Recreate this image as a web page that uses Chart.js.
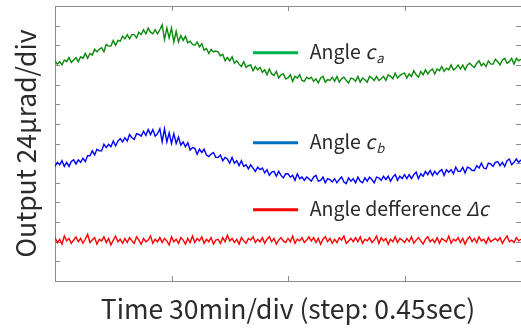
<!DOCTYPE html>
<html>
<head>
<meta charset="utf-8">
<script src="https://cdn.jsdelivr.net/npm/chart.js@4.4.1/dist/chart.umd.min.js"></script>
<style>
    html, body { margin: 0; padding: 0; background: #fff; }
    #wrap { width: 521px; height: 333px; position: relative; }
</style>
</head>
<body>
<div id="wrap"><canvas id="chart"></canvas></div>
<script>
// sample spacing along the time axis (minutes)
const STEP_MIN = 0.6;

// Angle c_a (µrad)
const angleA = [
    269, 265, 268, 264, 270, 268, 273, 267, 270, 273,
    268, 274, 272, 278, 272, 278, 276, 283, 280, 283,
    285, 280, 289, 287, 287, 294, 288, 294, 293, 299,
    296, 301, 296, 301, 301, 297, 304, 301, 307, 302,
    309, 304, 302, 307, 302, 307, 313, 295, 309, 297,
    309, 292, 305, 292, 300, 294, 299, 291, 293, 289,
    288, 292, 286, 290, 282, 284, 278, 283, 280, 281,
    280, 275, 277, 269, 273, 269, 274, 266, 269, 265,
    262, 268, 261, 263, 264, 257, 262, 258, 261, 255,
    258, 252, 259, 253, 251, 256, 248, 252, 253, 247,
    248, 252, 244, 250, 248, 252, 245, 244, 249, 247,
    249, 244, 247, 242, 248, 250, 243, 246, 245, 249,
    244, 250, 243, 247, 249, 245, 242, 248, 247, 244,
    250, 243, 248, 246, 243, 250, 248, 245, 250, 245,
    247, 250, 245, 252, 250, 247, 254, 248, 251, 253,
    254, 248, 253, 250, 257, 252, 249, 256, 252, 258,
    253, 257, 259, 253, 259, 257, 262, 256, 260, 258,
    264, 258, 260, 264, 259, 264, 258, 264, 266, 263,
    261, 266, 269, 263, 266, 262, 269, 265, 265, 271,
    268, 264, 270, 272, 266, 268, 272, 265, 272, 269,
    271
];

// Angle c_b (µrad)
const angleB = [
    140, 145, 142, 147, 140, 145, 140, 146, 148, 143,
    148, 145, 150, 146, 153, 153, 159, 154, 161, 159,
    159, 167, 163, 167, 164, 171, 165, 171, 174, 170,
    175, 171, 179, 175, 173, 180, 179, 177, 183, 178,
    185, 179, 185, 177, 180, 186, 170, 186, 170, 181,
    168, 180, 168, 176, 166, 170, 164, 169, 160, 163,
    162, 155, 161, 157, 161, 154, 152, 155, 157, 151,
    151, 154, 147, 151, 149, 144, 151, 144, 147, 141,
    147, 140, 142, 137, 142, 138, 134, 139, 136, 138,
    132, 136, 129, 133, 134, 128, 134, 129, 126, 131,
    131, 127, 129, 123, 131, 125, 127, 123, 127, 125,
    122, 127, 129, 122, 123, 127, 120, 125, 124, 121,
    125, 120, 124, 127, 121, 119, 126, 122, 125, 120,
    127, 122, 120, 126, 122, 127, 124, 120, 127, 126,
    123, 128, 124, 128, 122, 127, 130, 123, 128, 125,
    130, 125, 130, 125, 130, 133, 125, 131, 128, 134,
    130, 135, 129, 134, 130, 134, 136, 129, 136, 133,
    136, 131, 139, 134, 134, 139, 132, 139, 138, 135,
    135, 141, 138, 144, 138, 137, 144, 143, 140, 145,
    146, 141, 145, 140, 147, 149, 142, 145, 149, 145,
    148
];

// Angle difference Δc (µrad)
const angleDiff = [
    53, 47, 51, 45, 55, 49, 52, 46, 50, 54,
    48, 52, 46, 51, 57, 47, 50, 53, 45, 51,
    49, 54, 47, 52, 44, 50, 55, 48, 51, 46,
    52, 47, 53, 49, 46, 54, 50, 45, 52, 48,
    50, 55, 46, 51, 48, 53, 47, 52, 49, 44,
    54, 48, 51, 46, 53, 50, 45, 52, 47, 55,
    47, 52, 49, 54, 46, 51, 48, 53, 45, 50,
    51, 46, 53, 48, 56, 49, 52, 47, 51, 45,
    53, 49, 46, 52, 50, 54, 47, 51, 48, 53,
    46, 51, 54, 48, 52, 45, 50, 53, 49, 47,
    52, 48, 55, 46, 51, 49, 53, 47, 50, 54,
    49, 53, 47, 52, 45, 51, 54, 48, 52, 46,
    51, 47, 53, 50, 55, 46, 49, 52, 48, 53,
    48, 54, 46, 51, 49, 53, 47, 50, 55, 46,
    53, 49, 52, 45, 51, 48, 54, 47, 52, 50,
    47, 52, 48, 54, 46, 50, 53, 49, 45, 51,
    54, 48, 51, 47, 53, 46, 52, 50, 48, 55,
    46, 51, 49, 53, 47, 52, 45, 51, 54, 48,
    52, 47, 54, 49, 51, 46, 53, 48, 50, 52,
    49, 53, 46, 51, 55, 48, 50, 47, 53, 49,
    51
];

// axis divisions: 30 min/div, 24 µrad/div
const xTicks = [0, 30, 60, 90, 120];
const yTicks = [0, 24, 48, 72, 96, 120, 144, 168, 192, 216, 240, 264, 288, 312, 336];

const times = angleA.map((_, i) => i * STEP_MIN);
const toPoints = arr => arr.map((v, i) => ({ x: times[i], y: v }));

const TEXT_COLOR = '#2b2b2b';
const FONT = "'Noto Sans CJK KR', 'Noto Sans', sans-serif";

// Frame with inward ticks on all sides (no right border line)
const frameTicks = {
    id: 'frameTicks',
    beforeDatasetsDraw(chart) {
        const { ctx, chartArea: a, scales: { x, y } } = chart;
        ctx.save();
        ctx.strokeStyle = '#8c8c8c';
        ctx.lineWidth = 1;
        ctx.beginPath();
        ctx.moveTo(a.right, a.top + 0.5);
        ctx.lineTo(a.left + 0.5, a.top + 0.5);
        ctx.lineTo(a.left + 0.5, a.bottom + 0.5);
        ctx.lineTo(a.right, a.bottom + 0.5);
        yTicks.forEach(v => {
            const py = Math.round(y.getPixelForValue(v)) + 0.5;
            ctx.moveTo(a.left, py); ctx.lineTo(a.left + 5, py);
            ctx.moveTo(a.right - 5, py); ctx.lineTo(a.right, py);
        });
        xTicks.forEach(v => {
            const px = Math.round(x.getPixelForValue(v)) + 0.5;
            ctx.moveTo(px, a.top); ctx.lineTo(px, a.top + 5);
            ctx.moveTo(px, a.bottom); ctx.lineTo(px, a.bottom - 5);
        });
        ctx.stroke();
        ctx.restore();
    }
};

// Legend entries written inside the plot
const legendItems = [
    { color: '#00b050', y: 279, parts: [['Angle ', 'n'], ['c', 'i'], ['a', 's']] },
    { color: '#0070c0', y: 169, parts: [['Angle ', 'n'], ['c', 'i'], ['b', 's']] },
    { color: '#ff0000', y: 87, parts: [['Angle defference ', 'n'], ['\u0394c', 'i']] }
];

const inlineLegend = {
    id: 'inlineLegend',
    afterDatasetsDraw(chart) {
        const { ctx, scales: { x, y } } = chart;
        ctx.save();
        legendItems.forEach(item => {
            const py = y.getPixelForValue(item.y);
            ctx.strokeStyle = item.color;
            ctx.lineWidth = 3;
            ctx.beginPath();
            ctx.moveTo(x.getPixelForValue(51), py);
            ctx.lineTo(x.getPixelForValue(62.6), py);
            ctx.stroke();

            let tx = x.getPixelForValue(65.6);
            ctx.fillStyle = TEXT_COLOR;
            ctx.textBaseline = 'alphabetic';
            item.parts.forEach(([txt, kind]) => {
                let dy = 6;
                if (kind === 'n') ctx.font = `19.5px ${FONT}`;
                else if (kind === 'i') ctx.font = `italic 19.5px ${FONT}`;
                else { ctx.font = `italic 13px ${FONT}`; dy = 10; }
                ctx.fillText(txt, tx, py + dy);
                tx += ctx.measureText(txt).width + (kind === 'i' ? 1 : 0);
            });
        });
        ctx.restore();
    }
};

const ctx = document.getElementById('chart').getContext('2d');
new Chart(ctx, {
    type: 'line',
    data: {
        datasets: [
            { label: 'Angle ca', data: toPoints(angleA), borderColor: '#0a8a0a' },
            { label: 'Angle cb', data: toPoints(angleB), borderColor: '#0000ff' },
            { label: 'Angle defference Δc', data: toPoints(angleDiff), borderColor: '#ff0000' }
        ]
    },
    options: {
        responsive: true,
        maintainAspectRatio: false,
        animation: false,
        devicePixelRatio: 1,
        datasets: { line: { borderWidth: 1.4, pointRadius: 0, tension: 0 } },
        layout: { padding: { top: 6, right: 0, left: 0, bottom: 0 } },
        plugins: { legend: { display: false }, tooltip: { enabled: false } },
        scales: {
            x: {
                type: 'linear',
                min: 0,
                max: 120,
                grid: { display: false },
                border: { display: false },
                ticks: { display: false },
                afterFit: s => { s.height = 52; },
                title: {
                    display: true,
                    text: 'Time 30min/div (step: 0.45sec)',
                    color: TEXT_COLOR,
                    font: { family: FONT, size: 26.5, lineHeight: 1 },
                    padding: { top: 0, bottom: 11 }
                }
            },
            y: {
                min: 0,
                max: 336,
                grid: { display: false },
                border: { display: false },
                ticks: { display: false },
                afterFit: s => { s.width = 55; },
                title: {
                    display: true,
                    text: 'Output 24\u03bcrad/div',
                    color: TEXT_COLOR,
                    font: { family: FONT, size: 26.5, lineHeight: 1 },
                    padding: { top: 13, bottom: 0 }
                }
            }
        }
    },
    plugins: [frameTicks, inlineLegend]
});
</script>
</body>
</html>
